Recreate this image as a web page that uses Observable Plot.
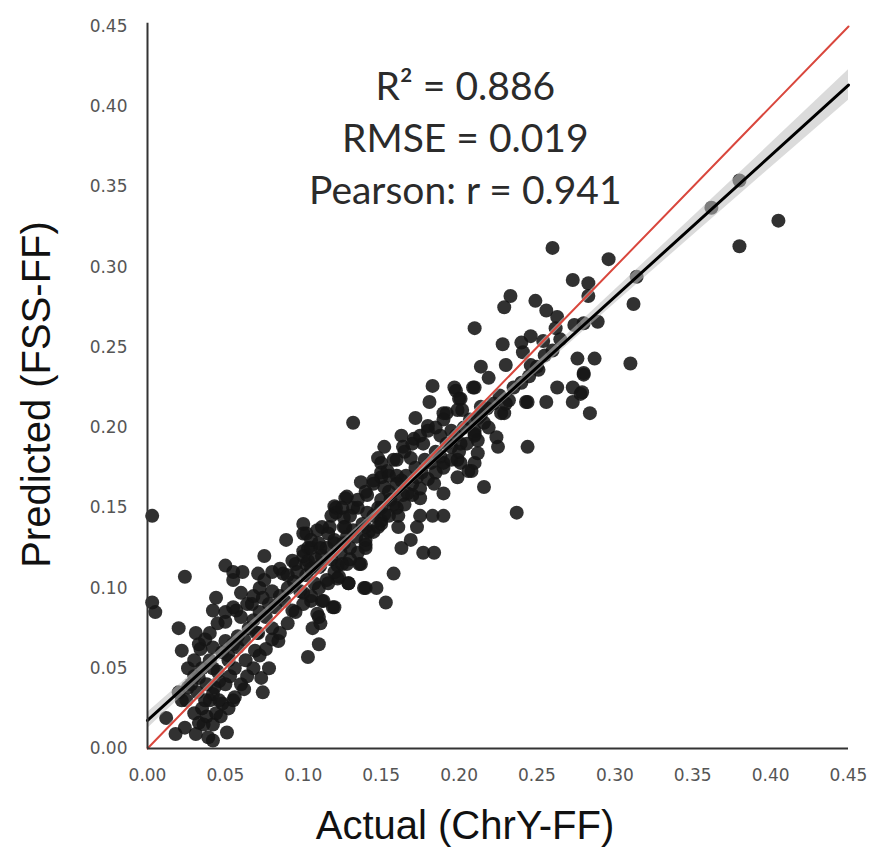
<!DOCTYPE html>
<html>
<head>
<meta charset="utf-8">
<script src="https://cdn.jsdelivr.net/npm/d3@7"></script>
<script src="https://cdn.jsdelivr.net/npm/@observablehq/plot@0.6"></script>
<style>
  html, body { margin: 0; padding: 0; background: #fff; }
  #chart { width: 870px; height: 856px; }
</style>
</head>
<body>
<div id="chart"></div>
<script>
// [actual ChrY-FF, predicted FSS-FF]
const ffPairs = [
  [0.003,0.145],[0.003,0.091],[0.005,0.085],[0.024,0.107],[0.132,0.203],[0.237,0.147],[0.225,0.188],
  [0.380,0.354],[0.362,0.337],[0.405,0.329],[0.380,0.313],[0.314,0.294],[0.296,0.305],[0.283,0.290],
  [0.312,0.277],[0.310,0.240],[0.287,0.243],[0.289,0.266],[0.280,0.265],[0.280,0.234],[0.279,0.222],[0.284,0.209],
  [0.260,0.312],[0.273,0.292],[0.283,0.282],[0.233,0.282],[0.229,0.275],[0.249,0.279],[0.256,0.273],
  [0.263,0.269],[0.262,0.262],[0.274,0.264],[0.210,0.262],[0.228,0.252],[0.240,0.253],[0.246,0.257],
  [0.254,0.254],[0.241,0.247],[0.276,0.243],[0.280,0.233],[0.214,0.238],[0.230,0.239],[0.219,0.231],
  [0.246,0.239],[0.251,0.236],[0.198,0.223],[0.201,0.218],[0.210,0.225],[0.263,0.225],[0.273,0.225],
  [0.278,0.221],[0.273,0.216],[0.244,0.216],[0.256,0.216],[0.192,0.209],[0.202,0.211],[0.214,0.213],
  [0.229,0.209],[0.232,0.217],[0.216,0.203],[0.224,0.194],[0.210,0.196],[0.212,0.184],[0.244,0.188],
  [0.195,0.198],[0.201,0.178],[0.208,0.173],
  [0.183,0.226],[0.197,0.225],[0.209,0.225],[0.200,0.218],[0.181,0.216],[0.190,0.209],[0.243,0.216],
  [0.216,0.163],[0.227,0.209],[0.206,0.173],[0.172,0.206],[0.180,0.201],[0.163,0.195],
  [0.171,0.193],[0.152,0.188],[0.164,0.188],[0.177,0.190],[0.188,0.195],[0.150,0.178],[0.158,0.180],
  [0.169,0.181],[0.154,0.173],[0.137,0.166],[0.145,0.167],[0.128,0.157],[0.120,0.151],[0.121,0.147],
  [0.132,0.150],[0.141,0.158],[0.152,0.163],[0.163,0.167],[0.173,0.169],[0.184,0.165],[0.190,0.159],
  [0.175,0.156],[0.167,0.159],[0.156,0.155],[0.150,0.150],[0.141,0.147],[0.161,0.145],[0.175,0.145],
  [0.183,0.145],[0.190,0.145],[0.173,0.138],[0.161,0.138],[0.148,0.138],[0.140,0.127],[0.163,0.125],
  [0.169,0.130],[0.177,0.122],[0.184,0.122],[0.158,0.109],[0.153,0.091],[0.137,0.115],[0.129,0.103],
  [0.139,0.100],[0.147,0.100],[0.102,0.134],[0.109,0.136],[0.117,0.138],[0.103,0.125],[0.111,0.125],
  [0.120,0.128],[0.128,0.132],[0.132,0.136],[0.102,0.115],[0.111,0.114],[0.122,0.114],[0.128,0.115],
  [0.107,0.103],[0.116,0.103],[0.122,0.106],[0.105,0.092],[0.113,0.092],[0.120,0.088],[0.109,0.084],
  [0.111,0.078],[0.199,0.211],[0.212,0.206],[0.219,0.200],[0.212,0.192],[0.201,0.190],[0.199,0.180],
  [0.190,0.178],[0.199,0.169],[0.210,0.178],[0.150,0.169],[0.148,0.181],[0.135,0.150],[0.126,0.144],
  [0.150,0.142],[0.140,0.138],[0.126,0.138],
  [0.075,0.120],[0.089,0.130],[0.100,0.134],[0.050,0.114],[0.055,0.110],[0.061,0.110],[0.055,0.105],
  [0.071,0.109],[0.044,0.094],[0.060,0.097],[0.057,0.086],[0.042,0.086],[0.020,0.075],[0.031,0.072],
  [0.050,0.079],[0.067,0.090],[0.074,0.094],[0.080,0.098],[0.087,0.109],[0.093,0.117],[0.100,0.123],
  [0.103,0.117],[0.110,0.113],[0.116,0.134],[0.127,0.138],[0.121,0.150],[0.140,0.125],[0.136,0.115],
  [0.129,0.103],[0.140,0.100],[0.123,0.107],[0.119,0.088],[0.112,0.092],[0.110,0.082],[0.106,0.075],
  [0.110,0.065],[0.103,0.057],[0.100,0.097],[0.093,0.086],[0.080,0.075],[0.084,0.067],[0.071,0.072],
  [0.069,0.061],[0.078,0.050],[0.073,0.044],[0.074,0.035],[0.062,0.037],[0.055,0.030],[0.051,0.010],
  [0.039,0.007],[0.033,0.016],[0.024,0.013],[0.018,0.009],[0.012,0.019],[0.022,0.061],[0.026,0.050],
  [0.033,0.065],[0.042,0.063],[0.050,0.067],[0.058,0.063],[0.063,0.055],[0.052,0.055],[0.042,0.050],
  [0.033,0.044],[0.046,0.042],[0.042,0.034],[0.048,0.028],[0.037,0.030],[0.026,0.038],[0.022,0.030],
  [0.044,0.022],[0.031,0.009],[0.042,0.005],[0.127,0.156],
  [0.030,0.045],[0.035,0.050],[0.038,0.040],[0.040,0.055],[0.045,0.048],[0.048,0.060],[0.052,0.058],
  [0.055,0.065],[0.058,0.070],[0.062,0.068],[0.065,0.075],[0.068,0.080],[0.070,0.072],[0.072,0.085],
  [0.076,0.082],[0.078,0.090],[0.082,0.088],[0.085,0.095],[0.088,0.092],[0.090,0.100],[0.094,0.104],
  [0.096,0.110],[0.098,0.098],[0.102,0.108],[0.105,0.112],[0.108,0.118],[0.112,0.120],[0.115,0.125],
  [0.118,0.118],[0.120,0.130],[0.124,0.122],[0.126,0.128],[0.130,0.125],[0.134,0.132],[0.138,0.140],
  [0.142,0.135],[0.145,0.145],[0.148,0.150],[0.152,0.146],[0.155,0.160],[0.158,0.152],[0.160,0.165],
  [0.164,0.158],[0.166,0.170],[0.170,0.165],[0.172,0.175],[0.176,0.172],[0.178,0.180],[0.182,0.178],
  [0.185,0.185],[0.188,0.182],[0.192,0.190],[0.195,0.188],[0.198,0.195],[0.203,0.200],[0.207,0.205],
  [0.210,0.198],[0.214,0.208],[0.218,0.212],[0.222,0.215],[0.226,0.220],[0.230,0.215],[0.235,0.225],
  [0.240,0.228],[0.245,0.232],[0.250,0.238],[0.255,0.245],[0.260,0.248],[0.265,0.255],
  [0.020,0.035],[0.025,0.030],[0.028,0.040],[0.032,0.035],[0.035,0.025],[0.038,0.020],[0.040,0.030],
  [0.043,0.038],[0.046,0.030],[0.050,0.040],[0.053,0.045],[0.056,0.050],[0.030,0.055],[0.034,0.062],
  [0.037,0.068],[0.040,0.072],[0.045,0.078],[0.050,0.085],[0.055,0.088],[0.060,0.082],[0.064,0.090],
  [0.068,0.095],[0.072,0.100],[0.075,0.105],[0.080,0.110],[0.085,0.112],[0.090,0.108],[0.095,0.115],
  [0.100,0.120],[0.105,0.125],[0.110,0.128],[0.030,0.022],[0.036,0.015],[0.042,0.015],[0.047,0.020],
  [0.052,0.025],[0.056,0.032],[0.060,0.040],[0.064,0.045],[0.068,0.050],[0.072,0.058],[0.076,0.062],
  [0.080,0.068],[0.085,0.072],[0.090,0.078],[0.095,0.085],[0.100,0.090],[0.105,0.095],[0.110,0.100],
  [0.115,0.105],[0.120,0.110],[0.125,0.115],[0.130,0.118],[0.135,0.122],[0.140,0.130],[0.145,0.135],
  [0.150,0.140],[0.155,0.145],[0.160,0.150],[0.165,0.152],[0.170,0.158],[0.175,0.162],[0.180,0.168],
  [0.185,0.172],[0.190,0.175],[0.195,0.180],[0.200,0.185],[0.205,0.190],[0.210,0.195],
  [0.100,0.140],[0.105,0.130],[0.112,0.138],[0.118,0.145],[0.125,0.150],[0.130,0.145],[0.135,0.155],
  [0.140,0.160],[0.145,0.165],[0.150,0.172],[0.155,0.170],[0.160,0.180],[0.165,0.185],[0.170,0.190],
  [0.175,0.195],[0.180,0.198],[0.150,0.155],[0.160,0.170],[0.185,0.200],[0.190,0.205]
];

// Regression fit (black) and its confidence band
const fitX = [0, 0.45];
const fitY = [0.0175, 0.4135];
const bandX    = [0, 0.05, 0.10, 0.15, 0.20, 0.25, 0.30, 0.35, 0.40, 0.45];
const bandLow  = [0.0125, 0.058, 0.103, 0.1475, 0.1913, 0.2345, 0.2773, 0.3197, 0.362, 0.404];
const bandHigh = [0.0225, 0.065, 0.108, 0.1515, 0.1957, 0.2405, 0.2857, 0.3313, 0.377, 0.423];
// Identity line (red)
const identity = [0, 0.45];

const tickValues = [0, 0.05, 0.10, 0.15, 0.20, 0.25, 0.30, 0.35, 0.40, 0.45];
const statsLines = ["R\u00B2 = 0.886", "RMSE = 0.019", "Pearson: r = 0.941"];
const xTitle = "Actual (ChrY-FF)";
const yTitle = "Predicted (FSS-FF)";

const points = ffPairs.map(([a, p]) => ({actual: a, predicted: p}));
const band = bandX.map((x, i) => ({x, lo: bandLow[i], hi: bandHigh[i]}));
const fit = fitX.map((x, i) => ({x, y: fitY[i]}));
const ident = identity.map(v => ({x: v, y: v}));

const chart = Plot.plot({
  width: 870,
  height: 856,
  marginLeft: 147,
  marginRight: 22,
  marginTop: 26,
  marginBottom: 108,
  style: {fontFamily: "'DejaVu Sans', sans-serif", fontSize: "17px", background: "#fff", color: "#555"},
  x: {domain: [0, 0.45]},
  y: {domain: [0, 0.45]},
  marks: [
    Plot.axisX({ticks: tickValues, tickSize: 0, tickPadding: 20, tickFormat: d3.format(".2f"), label: null, fontSize: 17, fill: "#555"}),
    Plot.axisY({ticks: tickValues, tickSize: 0, tickPadding: 20, tickFormat: d3.format(".2f"), label: null, fontSize: 17, fill: "#555"}),
    Plot.dot(points, {x: "actual", y: "predicted", r: 7, fill: "#151515", fillOpacity: 0.88, stroke: "none"}),
    Plot.areaY(band, {x: "x", y1: "lo", y2: "hi", fill: "#bdbdbd", fillOpacity: 0.55}),
    Plot.line(fit, {x: "x", y: "y", stroke: "#000", strokeWidth: 3}),
    Plot.line(ident, {x: "x", y: "y", stroke: "#fff", strokeWidth: 4, strokeOpacity: 0.45}),
    Plot.line(ident, {x: "x", y: "y", stroke: "#d9473d", strokeWidth: 2}),
    Plot.ruleX([0], {y1: 0, y2: 0.452, stroke: "#333", strokeWidth: 2}),
    Plot.ruleY([0], {x1: 0, x2: 0.45, stroke: "#333", strokeWidth: 2}),
    Plot.text([statsLines.join("\n")], {x: 0.204, y: 0.427, lineAnchor: "top", lineHeight: 1.33, fontSize: 39, fontFamily: "Lato", fill: "#2b2b2b", textAnchor: "middle"}),
    Plot.text([xTitle], {frameAnchor: "bottom", dx: -33, dy: 90, fontSize: 40, fontFamily: "'Liberation Sans', Arial, sans-serif", fill: "#111"}),
    Plot.text([yTitle], {frameAnchor: "left", textAnchor: "middle", dx: -110, dy: 7, rotate: -90, fontSize: 40, fontFamily: "'Liberation Sans', Arial, sans-serif", fill: "#111"})
  ]
});
document.getElementById("chart").appendChild(chart);
</script>
</body>
</html>
